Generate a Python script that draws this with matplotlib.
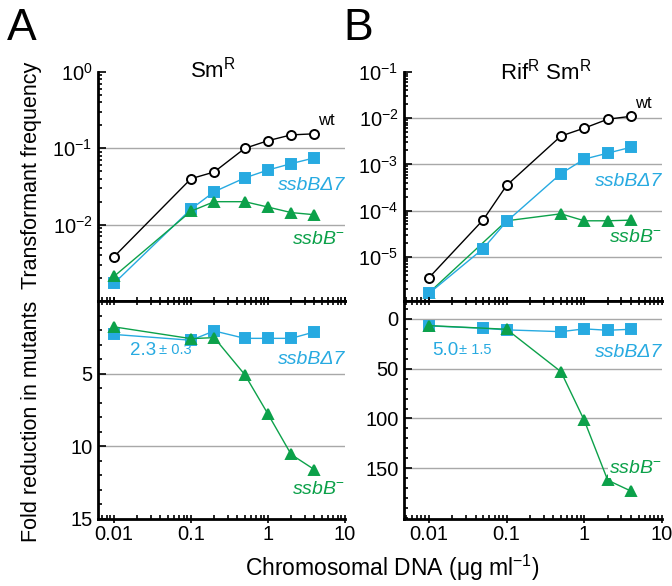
import numpy as np
import matplotlib
matplotlib.use('Agg')
import matplotlib.pyplot as plt
from matplotlib.ticker import FixedLocator, NullFormatter, LogLocator

plt.rcParams['font.family'] = ['Liberation Sans', 'DejaVu Sans']
plt.rcParams['mathtext.fontset'] = 'custom'
plt.rcParams['mathtext.rm'] = 'Liberation Sans'
plt.rcParams['mathtext.it'] = 'Liberation Sans:italic'
plt.rcParams['mathtext.bf'] = 'Liberation Sans:bold'

# panel A (Sm R)
dna_a = [0.01, 0.1, 0.2, 0.5, 1, 2, 4]
freq_wt_a = [0.0038, 0.040, 0.049, 0.10, 0.126, 0.15, 0.155]
freq_d7_a = [0.0017, 0.016, 0.027, 0.041, 0.052, 0.063, 0.075]
freq_ko_a = [0.0021, 0.015, 0.020, 0.020, 0.017, 0.0144, 0.0135]
fold_d7_a = [2.3, 2.7, 2.06, 2.57, 2.57, 2.57, 2.13]
fold_ko_a = [1.78, 2.59, 2.52, 5.07, 7.78, 10.56, 11.6]

# panel B (Rif R Sm R)
dna_b = [0.01, 0.05, 0.1, 0.5, 1, 2, 4]
dna_b_ko = [0.01, 0.1, 0.5, 1, 2, 4]
freq_wt_b = [3.5e-6, 6.3e-5, 3.5e-4, 4.1e-3, 6.1e-3, 9.5e-3, 1.1e-2]
freq_d7_b = [1.6e-6, 1.5e-5, 5.8e-5, 6.3e-4, 1.3e-3, 1.75e-3, 2.35e-3]
freq_ko_b = [1.65e-6, 6.0e-5, 8.5e-5, 6.0e-5, 6.0e-5, 6.2e-5]
fold_d7_b = [7, 9.4, 11, 12.8, 10, 11.4, 10.4]
fold_ko_b = [6.7, 10.4, 53, 102, 162, 173]

blue = '#27aae1'
green = '#0ca14a'
gridc = '#a8a8a8'

fig = plt.figure(figsize=(6.72, 5.86), dpi=100)
W, H = 672.0, 586.0


def box(x0, x1, y0, y1):
    return [x0 / W, 1 - y1 / H, (x1 - x0) / W, (y1 - y0) / H]


def style(ax, bottom_labels):
    for s in ['top', 'right']:
        ax.spines[s].set_visible(False)
    for s in ['left', 'bottom']:
        ax.spines[s].set_linewidth(2)
    ax.set_xscale('log')
    ax.xaxis.set_major_locator(FixedLocator([0.01, 0.1, 1, 10]))
    ax.xaxis.set_minor_locator(LogLocator(base=10, subs=np.arange(2, 10)))
    ax.xaxis.set_minor_formatter(NullFormatter())
    ax.tick_params(axis='x', which='major', direction='inout', length=6, width=1.2,
                   labelsize=14.5, labelbottom=bottom_labels, pad=1)
    ax.tick_params(axis='x', which='minor', direction='in', length=3, width=1.2)
    ax.tick_params(axis='y', which='major', direction='in', length=6, width=1.2,
                   labelsize=14.5, pad=4)
    ax.tick_params(axis='y', which='minor', direction='in', length=3, width=1.2)
    if bottom_labels:
        ax.set_xticklabels(['0.01', '0.1', '1', '10'])


def line(ax, x, y, color, marker, mfc, ms, z):
    ax.plot(x, y, color=color, lw=1.0, marker=marker, ms=ms, mfc=mfc,
            mec=color, mew=1.4, zorder=z, clip_on=False)


def label(ax, y, txt, color, **kw):
    ax.text(1.0, y, txt, color=color, fontsize=14, style='italic',
            ha='right', va='center', transform=ax.get_yaxis_transform(), **kw)


def mean_sd(ax, x, y, mean, sd, gap):
    ax.text(x, y, mean, color=blue, fontsize=13.5, ha='left', va='center')
    ax.annotate(sd, xy=(x, y), xytext=(gap, 0.5), textcoords='offset points',
                color=blue, fontsize=10.5, ha='left', va='center')


# ---------- A top ----------
ax = fig.add_axes(box(98, 345, 72, 301))
style(ax, False)
ax.set_yscale('log')
ax.set_xlim(0.0062, 10)
ax.set_ylim(1e-3, 1)
ax.yaxis.set_major_locator(FixedLocator([1, 0.1, 0.01]))
ax.set_yticklabels([r'$10^{0}$', r'$10^{-1}$', r'$10^{-2}$'])
ax.yaxis.set_minor_locator(LogLocator(base=10, subs=np.arange(2, 10)))
ax.yaxis.set_minor_formatter(NullFormatter())
for g in [0.1, 0.01]:
    ax.axhline(g, color=gridc, lw=1, zorder=0)
line(ax, dna_a, freq_d7_a, blue, 's', blue, 7, 3)
line(ax, dna_a, freq_ko_a, green, '^', green, 7, 4)
line(ax, dna_a, freq_wt_a, 'black', 'o', 'white', 6.5, 5)
ax.text(4.5, 0.235, 'wt', fontsize=12, ha='left', va='center')
label(ax, 0.033, 'ssbBΔ7', blue)
label(ax, 0.0063, 'ssbB$^{-}$', green)
ax.set_ylabel('Transformant frequency', fontsize=15.5)
ax.yaxis.set_label_coords(-56 / 247.0, 0.55)

# ---------- A bottom ----------
ax = fig.add_axes(box(98, 345, 301, 519))
style(ax, True)
ax.set_xlim(0.0062, 10)
ax.set_ylim(15, 0)
ax.yaxis.set_major_locator(FixedLocator([5, 10, 15]))
ax.yaxis.set_minor_locator(FixedLocator(np.arange(0, 15, 1)))
ax.spines['top'].set_visible(True)
ax.spines['top'].set_linewidth(2)
ax.tick_params(axis='x', which='both', top=True)
for g in [5, 10]:
    ax.axhline(g, color=gridc, lw=1, zorder=0)
line(ax, dna_a, fold_d7_a, blue, 's', blue, 7, 3)
line(ax, dna_a, fold_ko_a, green, '^', green, 7, 4)
mean_sd(ax, 0.0161, 3.4, '2.3', '± 0.3', 21)
label(ax, 4.0, 'ssbBΔ7', blue)
label(ax, 13.0, 'ssbB$^{-}$', green)
ax.set_ylabel('Fold reduction in mutants', fontsize=15.5)
ax.yaxis.set_label_coords(-56 / 247.0, 0.45)

# ---------- B top ----------
ax = fig.add_axes(box(404, 662, 72, 301))
style(ax, False)
ax.set_yscale('log')
ax.set_xlim(0.00478, 10)
ax.set_ylim(1.1e-6, 1e-1)
ax.yaxis.set_major_locator(FixedLocator([1e-1, 1e-2, 1e-3, 1e-4, 1e-5]))
ax.set_yticklabels([r'$10^{-1}$', r'$10^{-2}$', r'$10^{-3}$', r'$10^{-4}$', r'$10^{-5}$'])
ax.yaxis.set_minor_locator(LogLocator(base=10, subs=np.arange(2, 10)))
ax.yaxis.set_minor_formatter(NullFormatter())
for g in [1e-2, 1e-3, 1e-4, 1e-5]:
    ax.axhline(g, color=gridc, lw=1, zorder=0)
line(ax, dna_b_ko, freq_ko_b, green, '^', green, 7, 3)
line(ax, dna_b, freq_d7_b, blue, 's', blue, 7, 4)
line(ax, dna_b, freq_wt_b, 'black', 'o', 'white', 6.5, 5)
ax.text(4.5, 0.0213, 'wt', fontsize=12, ha='left', va='center')
label(ax, 4.2e-4, 'ssbBΔ7', blue)
label(ax, 2.6e-5, 'ssbB$^{-}$', green)

# ---------- B bottom ----------
ax = fig.add_axes(box(404, 662, 301, 519))
style(ax, True)
ax.set_xlim(0.00478, 10)
ax.set_ylim(201, -18)
ax.yaxis.set_major_locator(FixedLocator([0, 50, 100, 150]))
ax.yaxis.set_minor_locator(FixedLocator(np.arange(-10, 201, 10)))
ax.spines['top'].set_visible(True)
ax.spines['top'].set_linewidth(2)
ax.tick_params(axis='x', which='both', top=True)
for g in [0, 50, 100, 150]:
    ax.axhline(g, color=gridc, lw=1, zorder=0)
line(ax, dna_b, fold_d7_b, blue, 's', blue, 7, 3)
line(ax, dna_b_ko, fold_ko_b, green, '^', green, 7, 4)
mean_sd(ax, 0.0109, 32, '5.0', '± 1.5', 19.5)
label(ax, 33.5, 'ssbBΔ7', blue)
label(ax, 150, 'ssbB$^{-}$', green,
      bbox=dict(facecolor='white', edgecolor='none', pad=1), zorder=6)

# titles, panel letters, x label
fig.text(213 / W, 1 - 70 / H, r'Sm$^{\mathrm{R}}$', fontsize=16, ha='center', va='center')
fig.text(546 / W, 1 - 72 / H, r'Rif$^{\mathrm{R}}$ Sm$^{\mathrm{R}}$', fontsize=16,
         ha='center', va='center')
fig.text(7 / W, 1 - 28 / H, 'A', fontsize=32, ha='left', va='center')
fig.text(343 / W, 1 - 28 / H, 'B', fontsize=32, ha='left', va='center')
fig.text(392 / W, 1 - 568 / H, r'Chromosomal DNA (μg ml$^{\mathrm{-1}}$)', fontsize=16.5,
         ha='center', va='center')

fig.savefig('out.png', dpi=100)
